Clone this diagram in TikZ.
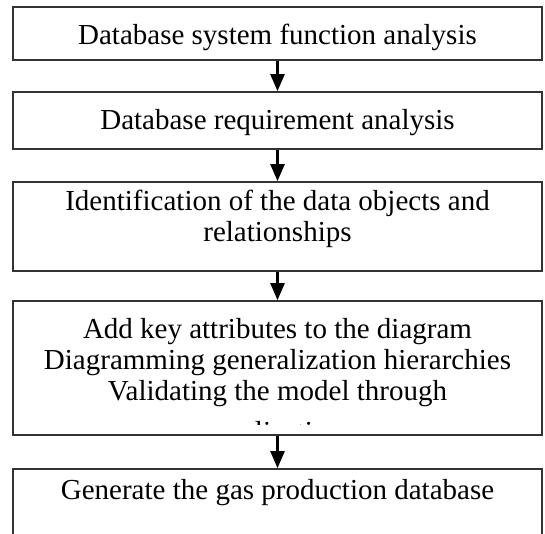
\documentclass[tikz,border=0pt]{standalone}
\usepackage{fontspec}
\setmainfont{Liberation Serif}
\usetikzlibrary{arrows.meta}
\begin{document}
\begin{tikzpicture}[x=1pt,y=-1pt,
  box/.style={draw=black!80, line width=1.7pt, minimum width=529pt, inner sep=0pt},
  txt/.style={anchor=base, inner sep=0pt, align=center, font=\fontsize{29pt}{31pt}\selectfont},
  flow/.style={line width=2.4pt, -{Triangle[length=17pt,width=14pt]}}]
\clip (0,0) rectangle (545,534);
\fill[white] (0,0) rectangle (545,534);
% boxes
\node[box, minimum height=53pt]  (b1) at (277.5,33.5) {};
\node[box, minimum height=57pt]  (b2) at (277.5,120.5) {};
\node[box, minimum height=89pt]  (b3) at (277.5,226.5) {};
\node[box, minimum height=134pt] (b4) at (277.5,368) {};
\node[box, minimum height=91pt]  (b5) at (277.5,514.5) {};
% texts (base anchor = baseline of the last line)
\node[txt] (t1) at (277.5,45) {Database system function analysis};
\node[txt] (t2) at (277.5,130) {Database requirement analysis};
\node[txt] (t3) at (277.5,241) {Identification of the data objects and\\relationships};
\node[txt] (t4) at (277.5,400) {Add key attributes to the diagram\\Diagramming generalization hierarchies\\Validating the model through};
\begin{scope}
\clip (13,301) rectangle (542,424);
\node[txt] (t4d) at (277.5,441) {application};
\end{scope}
\node[txt] (t5) at (277.5,499) {Generate the gas production database};
% connectors
\draw[flow] (b1.south) -- (b2.north);
\draw[flow] (b2.south) -- (b3.north);
\draw[flow] (b3.south) -- (b4.north);
\draw[flow] (b4.south) -- (b5.north);
\end{tikzpicture}
\end{document}
